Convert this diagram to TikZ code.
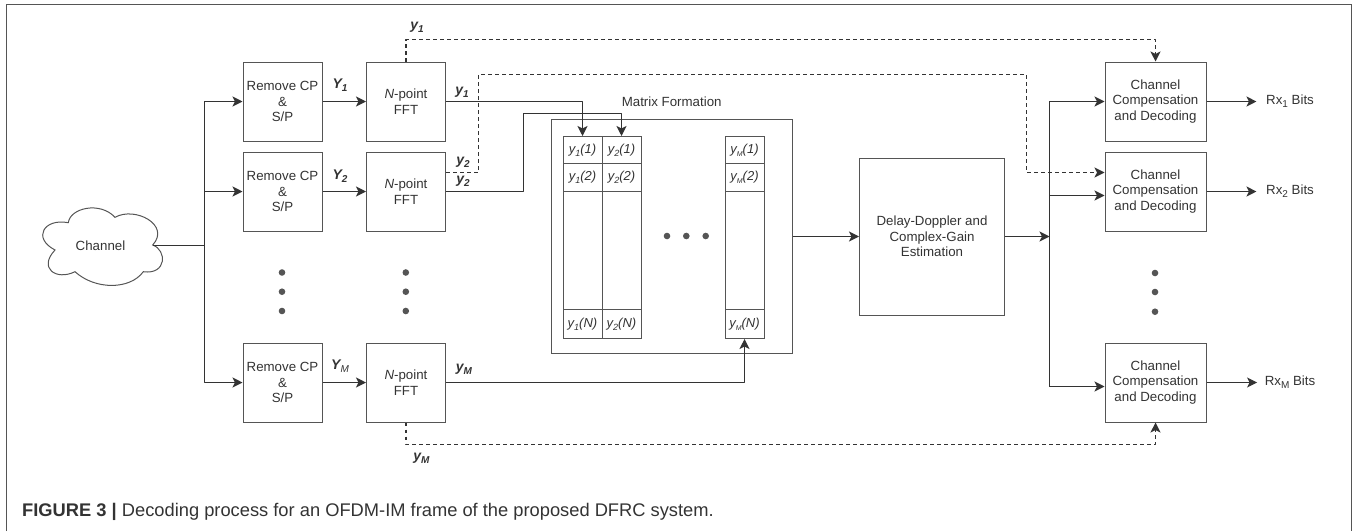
\documentclass[tikz,border=0pt]{standalone}
\usepackage{fontspec}
\setmainfont{Liberation Sans}
\usetikzlibrary{arrows.meta}
\definecolor{boxLine}{HTML}{555555}
\definecolor{flowLine}{HTML}{333333}
\definecolor{inkText}{HTML}{333333}
\newcommand{\dfrcSig}[2]{\textbf{\textit{#1\raisebox{-0.22em}{\fontsize{10}{10}\selectfont #2}}}}
\newcommand{\dfrcEntry}[3]{\textit{y\raisebox{-0.22em}{\fontsize{#2}{#2}\selectfont #1}(#3)}}
\newcommand{\dfrcRx}[1]{Rx\raisebox{-0.25em}{\fontsize{10}{10}\selectfont #1} Bits}
\tikzset{
  blockbox/.style={draw=boxLine, line width=1pt, text=inkText, align=center, inner sep=0pt, font=\fontsize{13.3}{15.7}\selectfont},
  cellbox/.style={draw=boxLine, line width=1pt, text=inkText, inner sep=0pt, minimum width=39pt, font=\fontsize{13}{14}\selectfont},
  siglabel/.style={inner sep=0pt, text=inkText, font=\fontsize{14}{14}\selectfont},
  plainlabel/.style={inner sep=0pt, text=inkText, font=\fontsize{13.3}{15.7}\selectfont},
  flowline/.style={draw=flowLine, line width=1.2pt, line join=round},
  flowarrow/.style={flowline, -{Stealth[length=10pt,width=10pt,inset=2.5pt]}},
  dashline/.style={flowarrow, dash pattern=on 3.6pt off 3.4pt},
  dotmark/.style={circle, fill=boxLine, inner sep=0pt, minimum size=6.6pt},
}

\begin{document}
\begin{tikzpicture}[x=1pt,y=-1pt]
\useasboundingbox (0,0) rectangle (1354,531);
\draw[boxLine, line width=1pt] (6.5,531) -- (6.5,4.5) -- (1351.5,4.5) -- (1351.5,531);
\draw[boxLine, line width=1pt] (55,250) .. controls (32,238) and (44,218) .. (68.3,222.7) .. controls (70,208) and (100,201) .. (115,217.3) .. controls (135,206) and (171,225) .. (152.7,245) .. controls (167,250) and (167,275) .. (143.3,271.7) .. controls (130,290) and (95,290) .. (75,271.7) .. controls (56,281) and (38,268) .. (55,250) -- cycle;
\node[plainlabel] (channel) at (100.5,245.5) {Channel};
\node[blockbox, minimum width=79pt, minimum height=79pt] (rm1) at (282.5,101.5) {Remove CP\\\&\\S/P};
\node[blockbox, minimum width=79pt, minimum height=79pt] (rm2) at (282.5,191.5) {Remove CP\\\&\\S/P};
\node[blockbox, minimum width=79pt, minimum height=79pt] (rm3) at (282.5,382.5) {Remove CP\\\&\\S/P};
\node[blockbox, minimum width=79pt, minimum height=79pt] (fft1) at (406,101.5) {\textit{N}-point\\FFT};
\node[blockbox, minimum width=79pt, minimum height=79pt] (fft2) at (406,191.5) {\textit{N}-point\\FFT};
\node[blockbox, minimum width=79pt, minimum height=79pt] (fft3) at (406,382.5) {\textit{N}-point\\FFT};
\node[blockbox, minimum width=241pt, minimum height=234pt] (matbox) at (672,236.5) {};
\node[plainlabel] (mattitle) at (671.7,102) {Matrix Formation};
\node[cellbox, minimum height=27pt] (c11) at (582.5,150) {\dfrcEntry{1}{9}{1}};
\node[cellbox, minimum height=28pt] (c12) at (582.5,177.5) {\dfrcEntry{1}{9}{2}};
\node[cellbox, minimum height=118pt] (c13) at (582.5,250.5) {};
\node[cellbox, minimum height=29pt] (c14) at (582.5,324) {\dfrcEntry{1}{9}{N}};
\node[cellbox, minimum height=27pt] (c21) at (621.5,150) {\dfrcEntry{2}{9}{1}};
\node[cellbox, minimum height=28pt] (c22) at (621.5,177.5) {\dfrcEntry{2}{9}{2}};
\node[cellbox, minimum height=118pt] (c23) at (621.5,250.5) {};
\node[cellbox, minimum height=29pt] (c24) at (621.5,324) {\dfrcEntry{2}{9}{N}};
\node[cellbox, minimum height=27pt] (cm1) at (744.5,150) {\dfrcEntry{M}{7}{1}};
\node[cellbox, minimum height=28pt] (cm2) at (744.5,177.5) {\dfrcEntry{M}{7}{2}};
\node[cellbox, minimum height=118pt] (cm3) at (744.5,250.5) {};
\node[cellbox, minimum height=29pt] (cm4) at (744.5,324) {\dfrcEntry{M}{7}{N}};
\node[blockbox, minimum width=145pt, minimum height=157pt] (delay) at (932,236.5) {Delay-Doppler and\\Complex-Gain\\Estimation};
\node[blockbox, minimum width=101pt, minimum height=79pt] (comp1) at (1155.5,101.5) {Channel\\Compensation\\and Decoding};
\node[blockbox, minimum width=101pt, minimum height=79pt] (comp2) at (1155.5,191.5) {Channel\\Compensation\\and Decoding};
\node[blockbox, minimum width=101pt, minimum height=79pt] (comp3) at (1155.5,382.5) {Channel\\Compensation\\and Decoding};
\node[plainlabel, inner xsep=9.5pt] (rx1) at (1290,101.5) {\dfrcRx{1}};
\node[plainlabel, inner xsep=9.5pt] (rx2) at (1290,191.5) {\dfrcRx{2}};
\node[plainlabel, inner xsep=7.5pt] (rx3) at (1290,382.5) {\dfrcRx{M}};
\node[siglabel] (lbigy1) at (340,85) {\dfrcSig{Y}{1}};
\node[siglabel] (lbigy2) at (340,176.5) {\dfrcSig{Y}{2}};
\node[siglabel] (lbigym) at (340,366) {\dfrcSig{Y}{\mdseries M}};
\node[siglabel] (ltopy1) at (417,27) {\dfrcSig{y}{1}};
\node[siglabel] (lsoly1) at (462,92) {\dfrcSig{y}{1}};
\node[siglabel] (ldashy2) at (463,162) {\dfrcSig{y}{2}};
\node[siglabel] (lsoly2) at (463,181.5) {\dfrcSig{y}{2}};
\node[siglabel] (lsolym) at (464,369) {\dfrcSig{y}{M}};
\node[siglabel] (lboty) at (421.5,458) {\dfrcSig{y}{M}};
\node[dotmark] (dl1) at (282,272.5) {};
\node[dotmark] (dl2) at (282,291.7) {};
\node[dotmark] (dl3) at (282,311) {};
\node[dotmark] (df1) at (405.8,272.5) {};
\node[dotmark] (df2) at (405.8,291.7) {};
\node[dotmark] (df3) at (405.8,311) {};
\node[dotmark] (dr1) at (1155,273) {};
\node[dotmark] (dr2) at (1155,292) {};
\node[dotmark] (dr3) at (1155,311.7) {};
\node[dotmark] (dm1) at (667,236) {};
\node[dotmark] (dm2) at (686.3,236) {};
\node[dotmark] (dm3) at (705.7,236) {};
\coordinate (channelout) at (152.7,245.5);
\coordinate (busL) at (204.5,245.5);
\coordinate (tapA) at (1049.5,101.5);
\coordinate (tapB) at (1049.5,195.5);
\coordinate (tapC) at (1049.5,386.5);
\coordinate (tapD) at (1049.5,236.5);
\coordinate (bendB) at (523.5,113.5);
\coordinate (dashTop) at (406,39.5);
\coordinate (dashB) at (478.5,172.5);
\coordinate (dashC) at (478.5,74.5);
\coordinate (dashD) at (1026.5,74.5);
\coordinate (dashE) at (1026.5,172.5);
\coordinate (dashBot) at (406,444.5);
\draw[flowline] (channelout) -- (busL);
\draw[flowarrow] (busL) |- (rm1.west);
\draw[flowarrow] (busL) |- (rm2.west);
\draw[flowarrow] (busL) |- (rm3.west);
\draw[flowarrow] (rm1.east) -- (fft1.west);
\draw[flowarrow] (rm2.east) -- (fft2.west);
\draw[flowarrow] (rm3.east) -- (fft3.west);
\draw[flowarrow] (fft1.east) -| (c11.north);
\draw[flowarrow] (fft2.east) -| (bendB) -| (c21.north);
\draw[flowarrow] (fft3.east) -| (cm4.south);
\draw[flowarrow] (matbox.east) -- (delay.west);
\draw[flowarrow] (delay.east) -- (tapD);
\draw[flowarrow] (tapC) -- (tapA) -- (comp1.west |- tapA);
\draw[flowarrow] (tapB) -- (comp2.west |- tapB);
\draw[flowarrow] (tapC) -- (comp3.west |- tapC);
\draw[flowarrow] (comp1.east) -- (rx1.west);
\draw[flowarrow] (comp2.east) -- (rx2.west);
\draw[flowarrow] (comp3.east) -- (rx3.west);
\draw[dashline] (fft1.north) -- (dashTop) -| (comp1.north);
\draw[dashline] (fft2.east |- dashB) -- (dashB) -- (dashC) -- (dashD) -- (dashE) -- (comp2.west |- dashE);
\draw[dashline] (fft3.south) -- (dashBot) -| (comp3.south);
\node[anchor=base west, inner sep=0pt, text=inkText, font=\fontsize{18.3}{19}\selectfont] (caption) at (22,516.5) {\textbf{FIGURE 3 |} Decoding process for an OFDM-IM frame of the proposed DFRC system.};
\end{tikzpicture}
\end{document}
